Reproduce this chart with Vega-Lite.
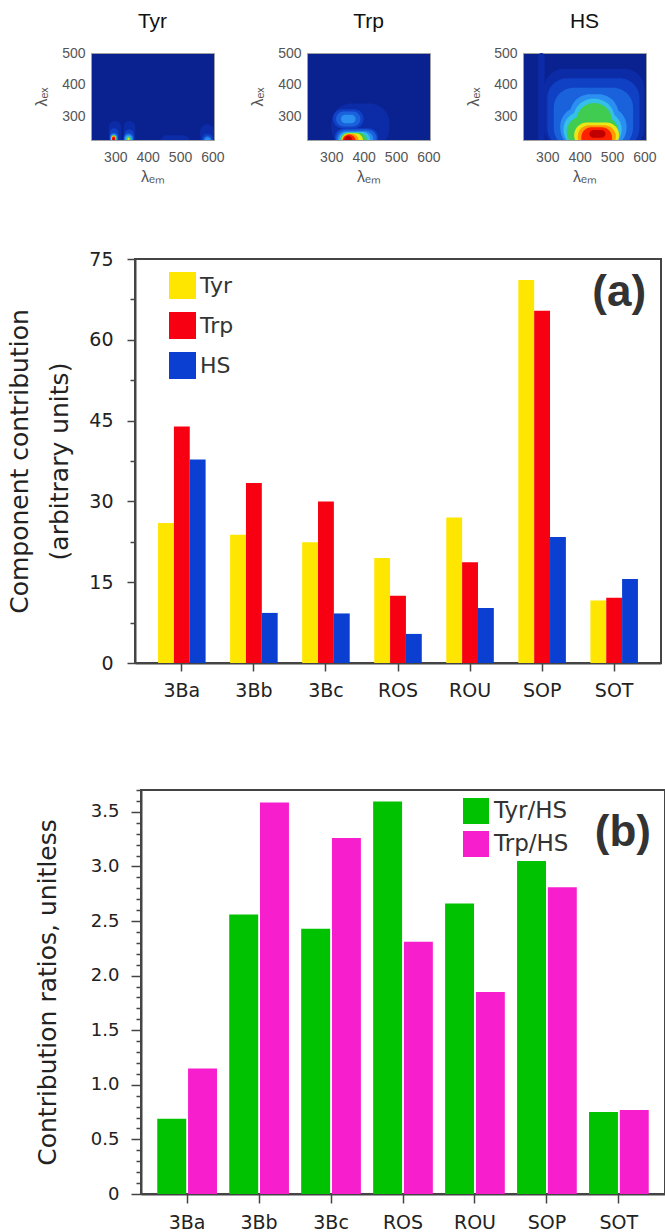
{
  "$schema": "https://vega.github.io/schema/vega-lite/v6.json",
  "background": "white",
  "padding": {"left": 5, "top": 10, "right": 0, "bottom": 0},
  "config": {
    "view": {"stroke": "#444", "strokeWidth": 2},
    "axis": {"grid": false, "labelFont": "DejaVu Sans", "titleFont": "DejaVu Sans", "labelColor": "#222", "titleColor": "#222", "domainColor": "#444", "tickColor": "#444", "titleFontWeight": "normal"}
  },
  "datasets": {
    "none": [],
    "hm": [
      {"p": "Tyr", "em1": 280, "em2": 318, "ex1": 200, "ex2": 285, "lvl": 1},
      {"p": "Tyr", "em1": 326, "em2": 362, "ex1": 200, "ex2": 285, "lvl": 1},
      {"p": "Tyr", "em1": 440, "em2": 530, "ex1": 200, "ex2": 240, "lvl": 1},
      {"p": "Tyr", "em1": 562, "em2": 605, "ex1": 200, "ex2": 275, "lvl": 1},
      {"p": "Tyr", "em1": 283, "em2": 310, "ex1": 200, "ex2": 262, "lvl": 2},
      {"p": "Tyr", "em1": 328, "em2": 358, "ex1": 200, "ex2": 258, "lvl": 2},
      {"p": "Tyr", "em1": 568, "em2": 602, "ex1": 200, "ex2": 245, "lvl": 2},
      {"p": "Tyr", "em1": 283, "em2": 308, "ex1": 200, "ex2": 248, "lvl": 3},
      {"p": "Tyr", "em1": 326, "em2": 356, "ex1": 200, "ex2": 246, "lvl": 3},
      {"p": "Tyr", "em1": 572, "em2": 598, "ex1": 200, "ex2": 238, "lvl": 3},
      {"p": "Tyr", "em1": 285, "em2": 306, "ex1": 200, "ex2": 244, "lvl": 4},
      {"p": "Tyr", "em1": 329, "em2": 353, "ex1": 200, "ex2": 242, "lvl": 4},
      {"p": "Tyr", "em1": 576, "em2": 595, "ex1": 200, "ex2": 234, "lvl": 4},
      {"p": "Tyr", "em1": 287, "em2": 304, "ex1": 200, "ex2": 241, "lvl": 6},
      {"p": "Tyr", "em1": 332, "em2": 350, "ex1": 200, "ex2": 238, "lvl": 5},
      {"p": "Tyr", "em1": 288, "em2": 302, "ex1": 200, "ex2": 239, "lvl": 7},
      {"p": "Tyr", "em1": 335, "em2": 347, "ex1": 200, "ex2": 235, "lvl": 6},
      {"p": "Tyr", "em1": 289, "em2": 301, "ex1": 200, "ex2": 237, "lvl": 8},
      {"p": "Tyr", "em1": 338, "em2": 344, "ex1": 200, "ex2": 232, "lvl": 7},
      {"p": "Tyr", "em1": 290, "em2": 300, "ex1": 200, "ex2": 236, "lvl": 9},
      {"p": "Tyr", "em1": 292, "em2": 298, "ex1": 200, "ex2": 232, "lvl": 10},
      {"p": "Trp", "em1": 300, "em2": 480, "ex1": 200, "ex2": 340, "lvl": 1},
      {"p": "Trp", "em1": 305, "em2": 400, "ex1": 262, "ex2": 322, "lvl": 2},
      {"p": "Trp", "em1": 310, "em2": 445, "ex1": 200, "ex2": 262, "lvl": 2},
      {"p": "Trp", "em1": 315, "em2": 390, "ex1": 268, "ex2": 315, "lvl": 3},
      {"p": "Trp", "em1": 315, "em2": 440, "ex1": 200, "ex2": 258, "lvl": 3},
      {"p": "Trp", "em1": 330, "em2": 375, "ex1": 278, "ex2": 305, "lvl": 4},
      {"p": "Trp", "em1": 320, "em2": 430, "ex1": 200, "ex2": 253, "lvl": 4},
      {"p": "Trp", "em1": 325, "em2": 420, "ex1": 200, "ex2": 250, "lvl": 5},
      {"p": "Trp", "em1": 328, "em2": 410, "ex1": 200, "ex2": 248, "lvl": 6},
      {"p": "Trp", "em1": 331, "em2": 398, "ex1": 200, "ex2": 246, "lvl": 7},
      {"p": "Trp", "em1": 333, "em2": 385, "ex1": 200, "ex2": 244, "lvl": 8},
      {"p": "Trp", "em1": 335, "em2": 375, "ex1": 200, "ex2": 242, "lvl": 9},
      {"p": "Trp", "em1": 340, "em2": 365, "ex1": 200, "ex2": 238, "lvl": 10},
      {"p": "HS", "em1": 272, "em2": 292, "ex1": 200, "ex2": 500, "lvl": 1},
      {"p": "HS", "em1": 290, "em2": 600, "ex1": 200, "ex2": 450, "lvl": 1},
      {"p": "HS", "em1": 300, "em2": 585, "ex1": 200, "ex2": 420, "lvl": 2},
      {"p": "HS", "em1": 320, "em2": 565, "ex1": 200, "ex2": 390, "lvl": 3},
      {"p": "HS", "em1": 340, "em2": 545, "ex1": 200, "ex2": 330, "lvl": 4},
      {"p": "HS", "em1": 370, "em2": 520, "ex1": 200, "ex2": 370, "lvl": 4},
      {"p": "HS", "em1": 350, "em2": 530, "ex1": 200, "ex2": 315, "lvl": 5},
      {"p": "HS", "em1": 380, "em2": 508, "ex1": 200, "ex2": 355, "lvl": 5},
      {"p": "HS", "em1": 360, "em2": 520, "ex1": 200, "ex2": 300, "lvl": 6},
      {"p": "HS", "em1": 390, "em2": 500, "ex1": 200, "ex2": 342, "lvl": 6},
      {"p": "HS", "em1": 383, "em2": 522, "ex1": 200, "ex2": 280, "lvl": 7},
      {"p": "HS", "em1": 394, "em2": 512, "ex1": 200, "ex2": 272, "lvl": 8},
      {"p": "HS", "em1": 405, "em2": 500, "ex1": 200, "ex2": 265, "lvl": 9},
      {"p": "HS", "em1": 430, "em2": 480, "ex1": 232, "ex2": 257, "lvl": 10}
    ],
    "a": [
      {"sample": "3Ba", "component": "Tyr", "value": 26.0},
      {"sample": "3Ba", "component": "Trp", "value": 43.9},
      {"sample": "3Ba", "component": "HS", "value": 37.8},
      {"sample": "3Bb", "component": "Tyr", "value": 23.8},
      {"sample": "3Bb", "component": "Trp", "value": 33.4},
      {"sample": "3Bb", "component": "HS", "value": 9.3},
      {"sample": "3Bc", "component": "Tyr", "value": 22.4},
      {"sample": "3Bc", "component": "Trp", "value": 30.0},
      {"sample": "3Bc", "component": "HS", "value": 9.2},
      {"sample": "ROS", "component": "Tyr", "value": 19.5},
      {"sample": "ROS", "component": "Trp", "value": 12.5},
      {"sample": "ROS", "component": "HS", "value": 5.4},
      {"sample": "ROU", "component": "Tyr", "value": 27.0},
      {"sample": "ROU", "component": "Trp", "value": 18.7},
      {"sample": "ROU", "component": "HS", "value": 10.2},
      {"sample": "SOP", "component": "Tyr", "value": 71.1},
      {"sample": "SOP", "component": "Trp", "value": 65.4},
      {"sample": "SOP", "component": "HS", "value": 23.4},
      {"sample": "SOT", "component": "Tyr", "value": 11.6},
      {"sample": "SOT", "component": "Trp", "value": 12.1},
      {"sample": "SOT", "component": "HS", "value": 15.6}
    ],
    "b": [
      {"sample": "3Ba", "ratio": "Tyr/HS", "value": 0.69},
      {"sample": "3Ba", "ratio": "Trp/HS", "value": 1.15},
      {"sample": "3Bb", "ratio": "Tyr/HS", "value": 2.56},
      {"sample": "3Bb", "ratio": "Trp/HS", "value": 3.585},
      {"sample": "3Bc", "ratio": "Tyr/HS", "value": 2.43},
      {"sample": "3Bc", "ratio": "Trp/HS", "value": 3.26},
      {"sample": "ROS", "ratio": "Tyr/HS", "value": 3.595},
      {"sample": "ROS", "ratio": "Trp/HS", "value": 2.31},
      {"sample": "ROU", "ratio": "Tyr/HS", "value": 2.66},
      {"sample": "ROU", "ratio": "Trp/HS", "value": 1.85},
      {"sample": "SOP", "ratio": "Tyr/HS", "value": 3.05},
      {"sample": "SOP", "ratio": "Trp/HS", "value": 2.81},
      {"sample": "SOT", "ratio": "Tyr/HS", "value": 0.75},
      {"sample": "SOT", "ratio": "Trp/HS", "value": 0.77}
    ],
    "alab": [{"sample": "SOT", "value": 68.6, "label": "(a)"}],
    "blab": [{"sample": "SOT", "value": 3.31, "label": "(b)"}]
  },
  "resolve": {"scale": {"color": "independent", "xOffset": "independent"}, "legend": {"color": "independent"}},
  "spacing": 87,
  "vconcat": [
    {
      "resolve": {"scale": {"color": "independent", "xOffset": "independent"}, "legend": {"color": "independent"}},
      "spacing": 64,
      "vconcat": [
        {
          "resolve": {"scale": {"color": "independent"}, "legend": {"color": "independent"}},
          "spacing": 24,
          "hconcat": [
            {"width": 4, "height": 10, "data": {"name": "none"}, "mark": "point", "view": {"stroke": null}},
            {
              "title": {"text": "Tyr", "fontSize": 21, "font": "Liberation Sans", "fontWeight": "normal", "color": "#111", "offset": 14},
              "width": 123, "height": 87,
              "view": {"stroke": "#a0a0a0", "strokeWidth": 1, "fill": "#0a2190"},
              "data": {"name": "hm"},
              "transform": [{"filter": "datum.p == 'Tyr'"}],
              "mark": {"type": "rect", "clip": true, "cornerRadius": 20},
              "encoding": {
                "x": {"field": "em1", "type": "quantitative", "scale": {"domain": [225, 605], "nice": false, "zero": false}, "axis": {"values": [300, 400, 500, 600], "title": "λₑₘ", "labelFont": "Liberation Sans", "titleFont": "Liberation Sans", "labelFontSize": 14, "titleFontSize": 16, "labelColor": "#555", "titleColor": "#555", "ticks": false, "domain": false, "labelPadding": 10, "titlePadding": 4}},
                "x2": {"field": "em2"},
                "y": {"field": "ex1", "type": "quantitative", "scale": {"domain": [225, 500], "nice": false, "zero": false}, "axis": {"values": [300, 400, 500], "title": "λₑₓ", "labelFont": "Liberation Sans", "titleFont": "Liberation Sans", "labelFontSize": 14, "titleFontSize": 16, "labelColor": "#555", "titleColor": "#555", "ticks": false, "domain": false, "labelPadding": 6, "titlePadding": 12}},
                "y2": {"field": "ex2"},
                "color": {"field": "lvl", "type": "ordinal", "scale": {"domain": [1, 2, 3, 4, 5, 6, 7, 8, 9, 10], "range": ["#0c2ba6", "#1040c4", "#1a62dc", "#2a8ff0", "#35c0e8", "#40cc50", "#e8e818", "#ff9a00", "#ff2000", "#c00000"]}, "legend": null}
              }
            },
            {
              "title": {"text": "Trp", "fontSize": 21, "font": "Liberation Sans", "fontWeight": "normal", "color": "#111", "offset": 14},
              "width": 123, "height": 87,
              "view": {"stroke": "#a0a0a0", "strokeWidth": 1, "fill": "#0a2190"},
              "data": {"name": "hm"},
              "transform": [{"filter": "datum.p == 'Trp'"}],
              "mark": {"type": "rect", "clip": true, "cornerRadius": 20},
              "encoding": {
                "x": {"field": "em1", "type": "quantitative", "scale": {"domain": [225, 605], "nice": false, "zero": false}, "axis": {"values": [300, 400, 500, 600], "title": "λₑₘ", "labelFont": "Liberation Sans", "titleFont": "Liberation Sans", "labelFontSize": 14, "titleFontSize": 16, "labelColor": "#555", "titleColor": "#555", "ticks": false, "domain": false, "labelPadding": 10, "titlePadding": 4}},
                "x2": {"field": "em2"},
                "y": {"field": "ex1", "type": "quantitative", "scale": {"domain": [225, 500], "nice": false, "zero": false}, "axis": {"values": [300, 400, 500], "title": "λₑₓ", "labelFont": "Liberation Sans", "titleFont": "Liberation Sans", "labelFontSize": 14, "titleFontSize": 16, "labelColor": "#555", "titleColor": "#555", "ticks": false, "domain": false, "labelPadding": 6, "titlePadding": 12}},
                "y2": {"field": "ex2"},
                "color": {"field": "lvl", "type": "ordinal", "scale": {"domain": [1, 2, 3, 4, 5, 6, 7, 8, 9, 10], "range": ["#0c2ba6", "#1040c4", "#1a62dc", "#2a8ff0", "#35c0e8", "#40cc50", "#e8e818", "#ff9a00", "#ff2000", "#c00000"]}, "legend": null}
              }
            },
            {
              "title": {"text": "HS", "fontSize": 21, "font": "Liberation Sans", "fontWeight": "normal", "color": "#111", "offset": 14},
              "width": 123, "height": 87,
              "view": {"stroke": "#a0a0a0", "strokeWidth": 1, "fill": "#0a2190"},
              "data": {"name": "hm"},
              "transform": [{"filter": "datum.p == 'HS'"}],
              "mark": {"type": "rect", "clip": true, "cornerRadius": 20},
              "encoding": {
                "x": {"field": "em1", "type": "quantitative", "scale": {"domain": [225, 605], "nice": false, "zero": false}, "axis": {"values": [300, 400, 500, 600], "title": "λₑₘ", "labelFont": "Liberation Sans", "titleFont": "Liberation Sans", "labelFontSize": 14, "titleFontSize": 16, "labelColor": "#555", "titleColor": "#555", "ticks": false, "domain": false, "labelPadding": 10, "titlePadding": 4}},
                "x2": {"field": "em2"},
                "y": {"field": "ex1", "type": "quantitative", "scale": {"domain": [225, 500], "nice": false, "zero": false}, "axis": {"values": [300, 400, 500], "title": "λₑₓ", "labelFont": "Liberation Sans", "titleFont": "Liberation Sans", "labelFontSize": 14, "titleFontSize": 16, "labelColor": "#555", "titleColor": "#555", "ticks": false, "domain": false, "labelPadding": 6, "titlePadding": 12}},
                "y2": {"field": "ex2"},
                "color": {"field": "lvl", "type": "ordinal", "scale": {"domain": [1, 2, 3, 4, 5, 6, 7, 8, 9, 10], "range": ["#0c2ba6", "#1040c4", "#1a62dc", "#2a8ff0", "#35c0e8", "#40cc50", "#e8e818", "#ff9a00", "#ff2000", "#c00000"]}, "legend": null}
              }
            }
          ]
        },
        {
          "spacing": 0,
          "resolve": {"scale": {"xOffset": "independent"}},
          "hconcat": [
            {"width": 1, "height": 10, "data": {"name": "none"}, "mark": "point", "view": {"stroke": null}},
            {
              "width": 526, "height": 404,
              "resolve": {"axis": {"y": "independent"}},
              "layer": [
                {
                  "data": {"name": "a"},
                  "mark": {"type": "bar"},
                  "encoding": {
                    "x": {"field": "sample", "type": "nominal", "sort": null, "scale": {"type": "band", "domain": ["3Ba", "3Bb", "3Bc", "ROS", "ROU", "SOP", "SOT"], "paddingInner": 0.34, "paddingOuter": 0.32}, "axis": {"title": null, "labelAngle": 0, "labelFontSize": 19, "tickSize": 8, "tickWidth": 1.5, "labelPadding": 10, "domainWidth": 2}},
                    "xOffset": {"field": "component", "type": "nominal", "sort": ["Tyr", "Trp", "HS"], "scale": {"domain": ["Tyr", "Trp", "HS"], "paddingInner": 0, "paddingOuter": 0}},
                    "y": {"field": "value", "type": "quantitative", "scale": {"domain": [0, 75], "nice": false}, "axis": {"values": [0, 15, 30, 45, 60, 75], "title": ["Component contribution", "(arbitrary units)"], "titleFontSize": 25, "titleLineHeight": 40, "titlePadding": 16, "labelFontSize": 19, "tickSize": 8, "tickWidth": 1.5, "labelPadding": 14, "domainWidth": 2}},
                    "color": {"field": "component", "type": "nominal", "sort": ["Tyr", "Trp", "HS"], "scale": {"domain": ["Tyr", "Trp", "HS"], "range": ["#ffe600", "#f70012", "#0a3fd1"]}, "legend": {"orient": "none", "legendX": 164, "legendY": 13, "title": null, "symbolType": "square", "symbolSize": 729, "symbolStrokeWidth": 0, "symbolOpacity": 1, "labelFontSize": 22, "labelFont": "DejaVu Sans", "labelColor": "#333", "rowPadding": 13, "labelOffset": 4, "padding": 0}}
                  }
                },
                {
                  "data": {"name": "alab"},
                  "mark": {"type": "text", "font": "Liberation Sans", "fontWeight": "bold", "fontSize": 44, "color": "#333", "baseline": "middle", "align": "center", "dx": 5},
                  "encoding": {
                    "x": {"field": "sample", "type": "nominal", "scale": {"type": "band"}},
                    "y": {"field": "value", "type": "quantitative", "axis": {"orient": "left", "values": [7.5, 22.5, 37.5, 52.5, 67.5], "labels": false, "domain": false, "tickSize": 5, "tickWidth": 1.5, "title": null}},
                    "text": {"field": "label"}
                  }
                }
              ]
            }
          ]
        }
      ]
    },
    {
      "spacing": 0,
      "resolve": {"scale": {"xOffset": "independent"}},
      "hconcat": [
        {"width": 29, "height": 10, "data": {"name": "none"}, "mark": "point", "view": {"stroke": null}},
        {
          "width": 524, "height": 404,
          "resolve": {"axis": {"y": "independent"}},
          "layer": [
            {
              "data": {"name": "b"},
              "mark": {"type": "bar"},
              "encoding": {
                "x": {"field": "sample", "type": "nominal", "sort": null, "scale": {"type": "band", "domain": ["3Ba", "3Bb", "3Bc", "ROS", "ROU", "SOP", "SOT"], "paddingInner": 0.17, "paddingOuter": 0.226}, "axis": {"title": null, "labelAngle": 0, "labelFontSize": 19, "tickSize": 9, "tickWidth": 1.5, "labelPadding": 10, "domainWidth": 2}},
                "xOffset": {"field": "ratio", "type": "nominal", "sort": ["Tyr/HS", "Trp/HS"], "scale": {"domain": ["Tyr/HS", "Trp/HS"], "paddingInner": 0.06, "paddingOuter": 0}},
                "y": {"field": "value", "type": "quantitative", "scale": {"domain": [0, 3.7], "nice": false}, "axis": {"values": [0, 0.5, 1, 1.5, 2, 2.5, 3, 3.5], "labelExpr": "datum.value == 0 ? '0' : format(datum.value, '.1f')", "title": "Contribution ratios, unitless", "titleFontSize": 25, "titlePadding": 30, "labelFontSize": 18, "tickSize": 10, "tickWidth": 1.5, "labelPadding": 12, "domainWidth": 2}},
                "color": {"field": "ratio", "type": "nominal", "sort": ["Tyr/HS", "Trp/HS"], "scale": {"domain": ["Tyr/HS", "Trp/HS"], "range": ["#00c200", "#f71ece"]}, "legend": {"orient": "none", "legendX": 458, "legendY": 8, "title": null, "symbolType": "square", "symbolSize": 676, "symbolStrokeWidth": 0, "symbolOpacity": 1, "labelFontSize": 23, "labelFont": "DejaVu Sans", "labelColor": "#333", "rowPadding": 7, "labelOffset": 5, "padding": 0}}
              }
            },
            {
              "data": {"name": "blab"},
              "mark": {"type": "text", "font": "Liberation Sans", "fontWeight": "bold", "fontSize": 44, "color": "#333", "baseline": "middle", "align": "center", "dx": 4},
              "encoding": {
                "x": {"field": "sample", "type": "nominal", "scale": {"type": "band"}},
                "y": {"field": "value", "type": "quantitative", "axis": {"orient": "left", "values": [0.1, 0.2, 0.3, 0.4, 0.6, 0.7, 0.8, 0.9, 1.1, 1.2, 1.3, 1.4, 1.6, 1.7, 1.8, 1.9, 2.1, 2.2, 2.3, 2.4, 2.6, 2.7, 2.8, 2.9, 3.1, 3.2, 3.3, 3.4, 3.6, 3.7], "labels": false, "domain": false, "tickSize": 5, "tickWidth": 1.5, "title": null}},
                "text": {"field": "label"}
              }
            }
          ]
        }
      ]
    }
  ]
}
